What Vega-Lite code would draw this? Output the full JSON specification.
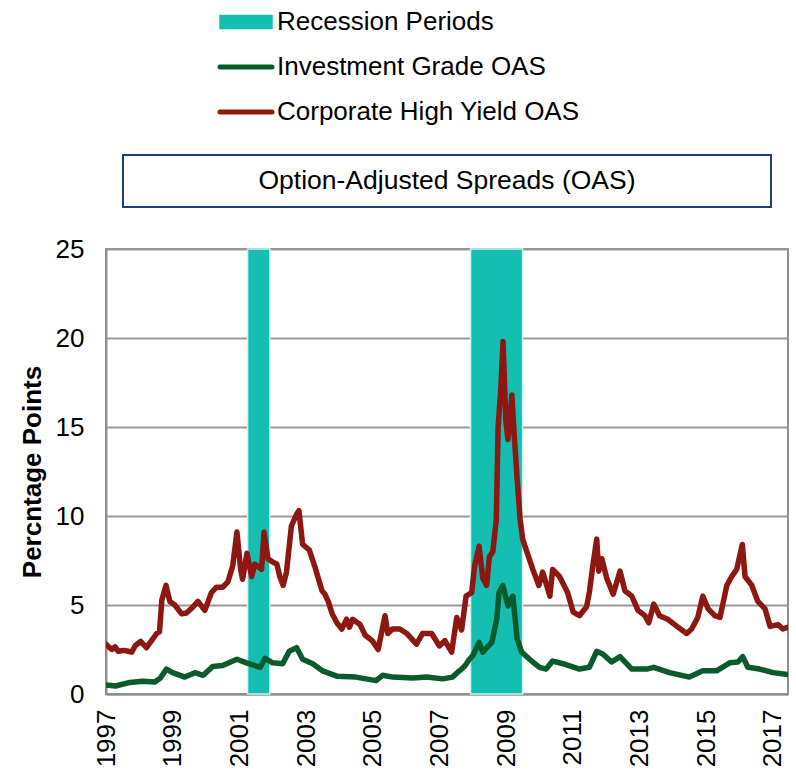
{
  "$schema": "https://vega.github.io/schema/vega-lite/v6.json",
  "background": "white",
  "padding": {"left": 18, "top": 9, "right": 0, "bottom": 0},
  "config": {
    "font": "Liberation Sans",
    "text": {"font": "Liberation Sans"}
  },
  "vconcat": [
    {
      "width": 648,
      "height": 52,
      "view": {"stroke": "#1F3F73", "strokeWidth": 2},
      "data": {"values": [{"label": "Option-Adjusted Spreads (OAS)"}]},
      "mark": {"type": "text", "fontSize": 26.5, "color": "#000000"},
      "encoding": {"text": {"field": "label", "type": "nominal"}}
    },
    {
      "width": 682,
      "height": 445,
      "view": {"stroke": "#8f8f8f", "strokeWidth": 2},
      "layer": [
        {
          "data": {
            "values": [
              {"series": "Recession Periods", "start": "2001-04-01", "end": "2001-11-30"},
              {"series": "Recession Periods", "start": "2007-12-08", "end": "2009-06-30"}
            ]
          },
          "mark": {"type": "rect", "stroke": "#c9f3ef", "strokeWidth": 1.5},
          "encoding": {
            "x": {"field": "start", "type": "temporal"},
            "x2": {"field": "end"},
            "color": {"field": "series", "type": "nominal"}
          }
        },
        {
          "data": {
            "values": [
              {"series": "Corporate High Yield OAS", "date": "1997-01-01", "value": 2.8},
              {"series": "Corporate High Yield OAS", "date": "1997-02-10", "value": 2.6},
              {"series": "Corporate High Yield OAS", "date": "1997-03-05", "value": 2.5},
              {"series": "Corporate High Yield OAS", "date": "1997-04-10", "value": 2.65},
              {"series": "Corporate High Yield OAS", "date": "1997-05-15", "value": 2.4},
              {"series": "Corporate High Yield OAS", "date": "1997-07-15", "value": 2.45},
              {"series": "Corporate High Yield OAS", "date": "1997-09-01", "value": 2.4},
              {"series": "Corporate High Yield OAS", "date": "1997-10-10", "value": 2.35},
              {"series": "Corporate High Yield OAS", "date": "1997-11-15", "value": 2.7},
              {"series": "Corporate High Yield OAS", "date": "1998-01-15", "value": 2.95},
              {"series": "Corporate High Yield OAS", "date": "1998-03-20", "value": 2.6},
              {"series": "Corporate High Yield OAS", "date": "1998-05-15", "value": 3.0},
              {"series": "Corporate High Yield OAS", "date": "1998-07-10", "value": 3.4},
              {"series": "Corporate High Yield OAS", "date": "1998-08-10", "value": 3.5},
              {"series": "Corporate High Yield OAS", "date": "1998-09-05", "value": 5.3},
              {"series": "Corporate High Yield OAS", "date": "1998-10-20", "value": 6.1},
              {"series": "Corporate High Yield OAS", "date": "1998-12-01", "value": 5.2},
              {"series": "Corporate High Yield OAS", "date": "1999-01-25", "value": 5.0},
              {"series": "Corporate High Yield OAS", "date": "1999-04-10", "value": 4.5},
              {"series": "Corporate High Yield OAS", "date": "1999-06-01", "value": 4.55},
              {"series": "Corporate High Yield OAS", "date": "1999-07-25", "value": 4.8},
              {"series": "Corporate High Yield OAS", "date": "1999-10-05", "value": 5.2},
              {"series": "Corporate High Yield OAS", "date": "1999-12-20", "value": 4.7},
              {"series": "Corporate High Yield OAS", "date": "2000-03-01", "value": 5.7},
              {"series": "Corporate High Yield OAS", "date": "2000-04-25", "value": 6.0},
              {"series": "Corporate High Yield OAS", "date": "2000-07-01", "value": 6.0},
              {"series": "Corporate High Yield OAS", "date": "2000-08-28", "value": 6.3},
              {"series": "Corporate High Yield OAS", "date": "2000-10-20", "value": 7.2},
              {"series": "Corporate High Yield OAS", "date": "2000-12-05", "value": 9.1},
              {"series": "Corporate High Yield OAS", "date": "2001-01-15", "value": 7.0},
              {"series": "Corporate High Yield OAS", "date": "2001-02-05", "value": 6.45},
              {"series": "Corporate High Yield OAS", "date": "2001-03-25", "value": 7.9},
              {"series": "Corporate High Yield OAS", "date": "2001-05-15", "value": 6.6},
              {"series": "Corporate High Yield OAS", "date": "2001-06-20", "value": 7.3},
              {"series": "Corporate High Yield OAS", "date": "2001-09-01", "value": 7.0},
              {"series": "Corporate High Yield OAS", "date": "2001-09-28", "value": 9.1},
              {"series": "Corporate High Yield OAS", "date": "2001-11-10", "value": 7.6},
              {"series": "Corporate High Yield OAS", "date": "2002-01-05", "value": 7.4},
              {"series": "Corporate High Yield OAS", "date": "2002-02-15", "value": 7.3},
              {"series": "Corporate High Yield OAS", "date": "2002-03-20", "value": 6.6},
              {"series": "Corporate High Yield OAS", "date": "2002-04-25", "value": 6.1},
              {"series": "Corporate High Yield OAS", "date": "2002-06-01", "value": 6.85},
              {"series": "Corporate High Yield OAS", "date": "2002-07-25", "value": 9.45},
              {"series": "Corporate High Yield OAS", "date": "2002-09-20", "value": 10.1},
              {"series": "Corporate High Yield OAS", "date": "2002-10-15", "value": 10.3},
              {"series": "Corporate High Yield OAS", "date": "2002-11-25", "value": 8.4},
              {"series": "Corporate High Yield OAS", "date": "2003-02-05", "value": 8.1},
              {"series": "Corporate High Yield OAS", "date": "2003-04-05", "value": 7.2},
              {"series": "Corporate High Yield OAS", "date": "2003-05-15", "value": 6.5},
              {"series": "Corporate High Yield OAS", "date": "2003-06-25", "value": 5.8},
              {"series": "Corporate High Yield OAS", "date": "2003-07-28", "value": 5.6},
              {"series": "Corporate High Yield OAS", "date": "2003-09-01", "value": 5.2},
              {"series": "Corporate High Yield OAS", "date": "2003-10-15", "value": 4.5},
              {"series": "Corporate High Yield OAS", "date": "2003-12-05", "value": 4.0},
              {"series": "Corporate High Yield OAS", "date": "2004-01-28", "value": 3.65},
              {"series": "Corporate High Yield OAS", "date": "2004-03-20", "value": 4.2},
              {"series": "Corporate High Yield OAS", "date": "2004-04-20", "value": 3.75},
              {"series": "Corporate High Yield OAS", "date": "2004-05-25", "value": 4.2},
              {"series": "Corporate High Yield OAS", "date": "2004-08-15", "value": 3.9},
              {"series": "Corporate High Yield OAS", "date": "2004-10-10", "value": 3.3},
              {"series": "Corporate High Yield OAS", "date": "2004-12-25", "value": 3.0},
              {"series": "Corporate High Yield OAS", "date": "2005-03-01", "value": 2.5},
              {"series": "Corporate High Yield OAS", "date": "2005-05-15", "value": 4.4},
              {"series": "Corporate High Yield OAS", "date": "2005-06-15", "value": 3.4},
              {"series": "Corporate High Yield OAS", "date": "2005-08-05", "value": 3.65},
              {"series": "Corporate High Yield OAS", "date": "2005-10-25", "value": 3.65},
              {"series": "Corporate High Yield OAS", "date": "2006-01-08", "value": 3.4},
              {"series": "Corporate High Yield OAS", "date": "2006-04-25", "value": 2.8},
              {"series": "Corporate High Yield OAS", "date": "2006-07-01", "value": 3.4},
              {"series": "Corporate High Yield OAS", "date": "2006-10-08", "value": 3.4},
              {"series": "Corporate High Yield OAS", "date": "2007-01-01", "value": 2.7},
              {"series": "Corporate High Yield OAS", "date": "2007-03-01", "value": 3.0},
              {"series": "Corporate High Yield OAS", "date": "2007-05-15", "value": 2.35},
              {"series": "Corporate High Yield OAS", "date": "2007-07-10", "value": 4.3},
              {"series": "Corporate High Yield OAS", "date": "2007-09-01", "value": 3.6},
              {"series": "Corporate High Yield OAS", "date": "2007-10-20", "value": 5.5},
              {"series": "Corporate High Yield OAS", "date": "2007-12-20", "value": 5.7},
              {"series": "Corporate High Yield OAS", "date": "2008-01-22", "value": 7.2},
              {"series": "Corporate High Yield OAS", "date": "2008-03-10", "value": 8.3},
              {"series": "Corporate High Yield OAS", "date": "2008-04-20", "value": 6.5},
              {"series": "Corporate High Yield OAS", "date": "2008-06-01", "value": 6.1},
              {"series": "Corporate High Yield OAS", "date": "2008-07-01", "value": 7.7},
              {"series": "Corporate High Yield OAS", "date": "2008-08-08", "value": 8.0},
              {"series": "Corporate High Yield OAS", "date": "2008-09-15", "value": 9.8},
              {"series": "Corporate High Yield OAS", "date": "2008-10-05", "value": 15.0},
              {"series": "Corporate High Yield OAS", "date": "2008-11-05", "value": 17.3},
              {"series": "Corporate High Yield OAS", "date": "2008-11-28", "value": 19.8},
              {"series": "Corporate High Yield OAS", "date": "2008-12-28", "value": 15.4},
              {"series": "Corporate High Yield OAS", "date": "2009-01-20", "value": 14.3},
              {"series": "Corporate High Yield OAS", "date": "2009-03-05", "value": 16.8},
              {"series": "Corporate High Yield OAS", "date": "2009-03-28", "value": 14.7},
              {"series": "Corporate High Yield OAS", "date": "2009-05-01", "value": 12.1},
              {"series": "Corporate High Yield OAS", "date": "2009-06-03", "value": 9.8},
              {"series": "Corporate High Yield OAS", "date": "2009-07-01", "value": 8.7},
              {"series": "Corporate High Yield OAS", "date": "2009-08-15", "value": 8.0},
              {"series": "Corporate High Yield OAS", "date": "2009-10-20", "value": 7.0},
              {"series": "Corporate High Yield OAS", "date": "2009-12-25", "value": 6.1},
              {"series": "Corporate High Yield OAS", "date": "2010-02-05", "value": 6.85},
              {"series": "Corporate High Yield OAS", "date": "2010-04-25", "value": 5.5},
              {"series": "Corporate High Yield OAS", "date": "2010-05-25", "value": 7.0},
              {"series": "Corporate High Yield OAS", "date": "2010-08-08", "value": 6.6},
              {"series": "Corporate High Yield OAS", "date": "2010-11-05", "value": 5.7},
              {"series": "Corporate High Yield OAS", "date": "2011-01-05", "value": 4.6},
              {"series": "Corporate High Yield OAS", "date": "2011-03-15", "value": 4.4},
              {"series": "Corporate High Yield OAS", "date": "2011-06-01", "value": 4.9},
              {"series": "Corporate High Yield OAS", "date": "2011-07-01", "value": 5.7},
              {"series": "Corporate High Yield OAS", "date": "2011-08-08", "value": 7.2},
              {"series": "Corporate High Yield OAS", "date": "2011-09-20", "value": 8.7},
              {"series": "Corporate High Yield OAS", "date": "2011-10-12", "value": 6.9},
              {"series": "Corporate High Yield OAS", "date": "2011-11-15", "value": 7.6},
              {"series": "Corporate High Yield OAS", "date": "2012-01-08", "value": 6.5},
              {"series": "Corporate High Yield OAS", "date": "2012-03-18", "value": 5.6},
              {"series": "Corporate High Yield OAS", "date": "2012-06-01", "value": 6.9},
              {"series": "Corporate High Yield OAS", "date": "2012-07-25", "value": 5.8},
              {"series": "Corporate High Yield OAS", "date": "2012-10-08", "value": 5.5},
              {"series": "Corporate High Yield OAS", "date": "2012-12-15", "value": 4.7},
              {"series": "Corporate High Yield OAS", "date": "2013-03-01", "value": 4.4},
              {"series": "Corporate High Yield OAS", "date": "2013-04-12", "value": 4.0},
              {"series": "Corporate High Yield OAS", "date": "2013-06-05", "value": 5.05},
              {"series": "Corporate High Yield OAS", "date": "2013-08-08", "value": 4.4},
              {"series": "Corporate High Yield OAS", "date": "2013-11-05", "value": 4.2},
              {"series": "Corporate High Yield OAS", "date": "2014-02-15", "value": 3.8},
              {"series": "Corporate High Yield OAS", "date": "2014-06-01", "value": 3.4},
              {"series": "Corporate High Yield OAS", "date": "2014-07-25", "value": 3.65},
              {"series": "Corporate High Yield OAS", "date": "2014-10-01", "value": 4.3},
              {"series": "Corporate High Yield OAS", "date": "2014-11-25", "value": 5.5},
              {"series": "Corporate High Yield OAS", "date": "2015-01-20", "value": 4.8},
              {"series": "Corporate High Yield OAS", "date": "2015-04-05", "value": 4.4},
              {"series": "Corporate High Yield OAS", "date": "2015-06-01", "value": 4.3},
              {"series": "Corporate High Yield OAS", "date": "2015-08-15", "value": 6.1},
              {"series": "Corporate High Yield OAS", "date": "2015-10-08", "value": 6.6},
              {"series": "Corporate High Yield OAS", "date": "2015-12-01", "value": 7.0},
              {"series": "Corporate High Yield OAS", "date": "2016-02-01", "value": 8.4},
              {"series": "Corporate High Yield OAS", "date": "2016-03-01", "value": 6.6},
              {"series": "Corporate High Yield OAS", "date": "2016-05-15", "value": 6.1},
              {"series": "Corporate High Yield OAS", "date": "2016-07-20", "value": 5.2},
              {"series": "Corporate High Yield OAS", "date": "2016-10-05", "value": 4.8},
              {"series": "Corporate High Yield OAS", "date": "2016-12-01", "value": 3.8},
              {"series": "Corporate High Yield OAS", "date": "2017-02-25", "value": 3.9},
              {"series": "Corporate High Yield OAS", "date": "2017-04-20", "value": 3.65},
              {"series": "Corporate High Yield OAS", "date": "2017-06-10", "value": 3.75},
              {"series": "Investment Grade OAS", "date": "1997-01-01", "value": 0.5},
              {"series": "Investment Grade OAS", "date": "1997-04-15", "value": 0.45},
              {"series": "Investment Grade OAS", "date": "1997-09-20", "value": 0.65},
              {"series": "Investment Grade OAS", "date": "1998-02-05", "value": 0.72},
              {"series": "Investment Grade OAS", "date": "1998-06-20", "value": 0.68},
              {"series": "Investment Grade OAS", "date": "1998-08-20", "value": 0.9},
              {"series": "Investment Grade OAS", "date": "1998-10-25", "value": 1.4},
              {"series": "Investment Grade OAS", "date": "1999-01-01", "value": 1.2},
              {"series": "Investment Grade OAS", "date": "1999-05-15", "value": 0.95},
              {"series": "Investment Grade OAS", "date": "1999-09-01", "value": 1.2},
              {"series": "Investment Grade OAS", "date": "1999-12-01", "value": 1.05},
              {"series": "Investment Grade OAS", "date": "2000-03-15", "value": 1.55},
              {"series": "Investment Grade OAS", "date": "2000-07-01", "value": 1.6},
              {"series": "Investment Grade OAS", "date": "2000-12-05", "value": 1.95},
              {"series": "Investment Grade OAS", "date": "2001-03-20", "value": 1.75},
              {"series": "Investment Grade OAS", "date": "2001-08-15", "value": 1.5},
              {"series": "Investment Grade OAS", "date": "2001-10-08", "value": 2.0},
              {"series": "Investment Grade OAS", "date": "2002-01-01", "value": 1.75},
              {"series": "Investment Grade OAS", "date": "2002-04-20", "value": 1.7},
              {"series": "Investment Grade OAS", "date": "2002-07-01", "value": 2.4},
              {"series": "Investment Grade OAS", "date": "2002-09-20", "value": 2.6},
              {"series": "Investment Grade OAS", "date": "2002-11-25", "value": 1.95},
              {"series": "Investment Grade OAS", "date": "2003-03-15", "value": 1.7},
              {"series": "Investment Grade OAS", "date": "2003-07-01", "value": 1.3},
              {"series": "Investment Grade OAS", "date": "2003-12-05", "value": 1.0},
              {"series": "Investment Grade OAS", "date": "2004-07-01", "value": 0.95},
              {"series": "Investment Grade OAS", "date": "2005-02-05", "value": 0.75},
              {"series": "Investment Grade OAS", "date": "2005-04-20", "value": 1.05},
              {"series": "Investment Grade OAS", "date": "2005-08-08", "value": 0.95},
              {"series": "Investment Grade OAS", "date": "2006-03-15", "value": 0.9},
              {"series": "Investment Grade OAS", "date": "2006-08-15", "value": 0.95},
              {"series": "Investment Grade OAS", "date": "2007-02-05", "value": 0.85},
              {"series": "Investment Grade OAS", "date": "2007-05-25", "value": 0.95},
              {"series": "Investment Grade OAS", "date": "2007-07-15", "value": 1.2},
              {"series": "Investment Grade OAS", "date": "2007-09-01", "value": 1.4},
              {"series": "Investment Grade OAS", "date": "2007-10-10", "value": 1.6},
              {"series": "Investment Grade OAS", "date": "2007-11-25", "value": 1.95},
              {"series": "Investment Grade OAS", "date": "2008-01-01", "value": 2.15},
              {"series": "Investment Grade OAS", "date": "2008-03-10", "value": 2.9},
              {"series": "Investment Grade OAS", "date": "2008-04-20", "value": 2.35},
              {"series": "Investment Grade OAS", "date": "2008-07-28", "value": 2.9},
              {"series": "Investment Grade OAS", "date": "2008-09-20", "value": 4.2},
              {"series": "Investment Grade OAS", "date": "2008-10-15", "value": 5.7},
              {"series": "Investment Grade OAS", "date": "2008-11-25", "value": 6.1},
              {"series": "Investment Grade OAS", "date": "2009-01-20", "value": 4.95},
              {"series": "Investment Grade OAS", "date": "2009-03-15", "value": 5.5},
              {"series": "Investment Grade OAS", "date": "2009-05-01", "value": 3.1},
              {"series": "Investment Grade OAS", "date": "2009-06-20", "value": 2.35},
              {"series": "Investment Grade OAS", "date": "2009-09-15", "value": 1.95},
              {"series": "Investment Grade OAS", "date": "2010-01-01", "value": 1.5},
              {"series": "Investment Grade OAS", "date": "2010-03-15", "value": 1.4},
              {"series": "Investment Grade OAS", "date": "2010-05-25", "value": 1.85},
              {"series": "Investment Grade OAS", "date": "2010-09-15", "value": 1.7},
              {"series": "Investment Grade OAS", "date": "2011-03-15", "value": 1.4},
              {"series": "Investment Grade OAS", "date": "2011-07-01", "value": 1.5},
              {"series": "Investment Grade OAS", "date": "2011-09-20", "value": 2.4},
              {"series": "Investment Grade OAS", "date": "2011-11-25", "value": 2.25},
              {"series": "Investment Grade OAS", "date": "2012-03-01", "value": 1.8},
              {"series": "Investment Grade OAS", "date": "2012-06-01", "value": 2.1},
              {"series": "Investment Grade OAS", "date": "2012-10-08", "value": 1.4},
              {"series": "Investment Grade OAS", "date": "2013-03-20", "value": 1.4},
              {"series": "Investment Grade OAS", "date": "2013-06-05", "value": 1.5},
              {"series": "Investment Grade OAS", "date": "2013-11-25", "value": 1.2},
              {"series": "Investment Grade OAS", "date": "2014-07-01", "value": 0.95},
              {"series": "Investment Grade OAS", "date": "2014-11-25", "value": 1.3},
              {"series": "Investment Grade OAS", "date": "2015-04-25", "value": 1.3},
              {"series": "Investment Grade OAS", "date": "2015-09-15", "value": 1.75},
              {"series": "Investment Grade OAS", "date": "2015-12-15", "value": 1.8},
              {"series": "Investment Grade OAS", "date": "2016-02-05", "value": 2.1},
              {"series": "Investment Grade OAS", "date": "2016-04-01", "value": 1.5},
              {"series": "Investment Grade OAS", "date": "2016-08-08", "value": 1.4},
              {"series": "Investment Grade OAS", "date": "2017-01-01", "value": 1.2},
              {"series": "Investment Grade OAS", "date": "2017-06-10", "value": 1.1}
            ]
          },
          "mark": {"type": "line", "strokeWidth": 5.5, "strokeCap": "round", "strokeJoin": "round", "clip": true},
          "encoding": {
            "x": {"field": "date", "type": "temporal"},
            "y": {
              "field": "value",
              "type": "quantitative",
              "scale": {"domain": [0, 25], "nice": false, "zero": true},
              "axis": {
                "title": "Percntage Points",
                "titleFontSize": 26,
                "titleFontWeight": "bold",
                "titleColor": "#000000",
                "titlePadding": 10,
                "values": [0, 5, 10, 15, 20, 25],
                "labelFontSize": 26,
                "labelColor": "#000000",
                "labelPadding": 22,
                "ticks": false,
                "grid": true,
                "gridColor": "#9a9a9a",
                "gridWidth": 2,
                "domainColor": "#8f8f8f",
                "domainWidth": 2
              }
            },
            "color": {"field": "series", "type": "nominal"}
          }
        }
      ],
      "encoding": {
        "x": {
          "field": "date",
          "type": "temporal",
          "scale": {"type": "utc", "domain": [{"year": 1997, "month": 1, "date": 1, "utc": true}, {"year": 2017, "month": 6, "date": 15, "utc": true}]},
          "axis": {
            "title": null,
            "values": [
              {"year": 1997, "month": 1, "date": 1, "utc": true},
              {"year": 1999, "month": 1, "date": 1, "utc": true},
              {"year": 2001, "month": 1, "date": 1, "utc": true},
              {"year": 2003, "month": 1, "date": 1, "utc": true},
              {"year": 2005, "month": 1, "date": 1, "utc": true},
              {"year": 2007, "month": 1, "date": 1, "utc": true},
              {"year": 2009, "month": 1, "date": 1, "utc": true},
              {"year": 2011, "month": 1, "date": 1, "utc": true},
              {"year": 2013, "month": 1, "date": 1, "utc": true},
              {"year": 2015, "month": 1, "date": 1, "utc": true},
              {"year": 2017, "month": 1, "date": 1, "utc": true}
            ],
            "format": "%Y",
            "labelAngle": -90,
            "labelFontSize": 26,
            "labelColor": "#000000",
            "labelPadding": 15,
            "labelOverlap": false,
            "labelFlush": false,
            "ticks": false,
            "grid": false,
            "domainColor": "#8f8f8f",
            "domainWidth": 2
          }
        },
        "color": {
          "field": "series",
          "type": "nominal",
          "scale": {
            "domain": ["Recession Periods", "Investment Grade OAS", "Corporate High Yield OAS"],
            "range": ["#14BFB2", "#0B5A2B", "#8E1712"]
          },
          "legend": {
            "orient": "none",
            "legendX": 127,
            "legendY": -146,
            "direction": "vertical",
            "title": null,
            "labelFontSize": 26,
            "labelColor": "#000000",
            "labelLimit": 0,
            "labelOffset": 18,
            "rowPadding": 19,
            "symbolSize": 676,
            "encode": {
              "symbols": {
                "update": {
                  "shape": {"signal": "datum.value === 'Recession Periods' ? 'M-2,-0.5H2V0.5H-2Z' : 'M-2,0H2'"},
                  "size": {"value": 676},
                  "fill": {"signal": "datum.value === 'Recession Periods' ? scale('color', datum.value) : 'transparent'"},
                  "stroke": {"signal": "datum.value === 'Recession Periods' ? '#c9f3ef' : scale('color', datum.value)"},
                  "strokeWidth": {"signal": "datum.value === 'Recession Periods' ? 1.5 : 5"},
                  "strokeCap": {"value": "round"},
                  "opacity": {"value": 1}
                }
              }
            }
          }
        }
      }
    }
  ],
  "spacing": 42,
  "bounds": "flush",
  "center": true
}
